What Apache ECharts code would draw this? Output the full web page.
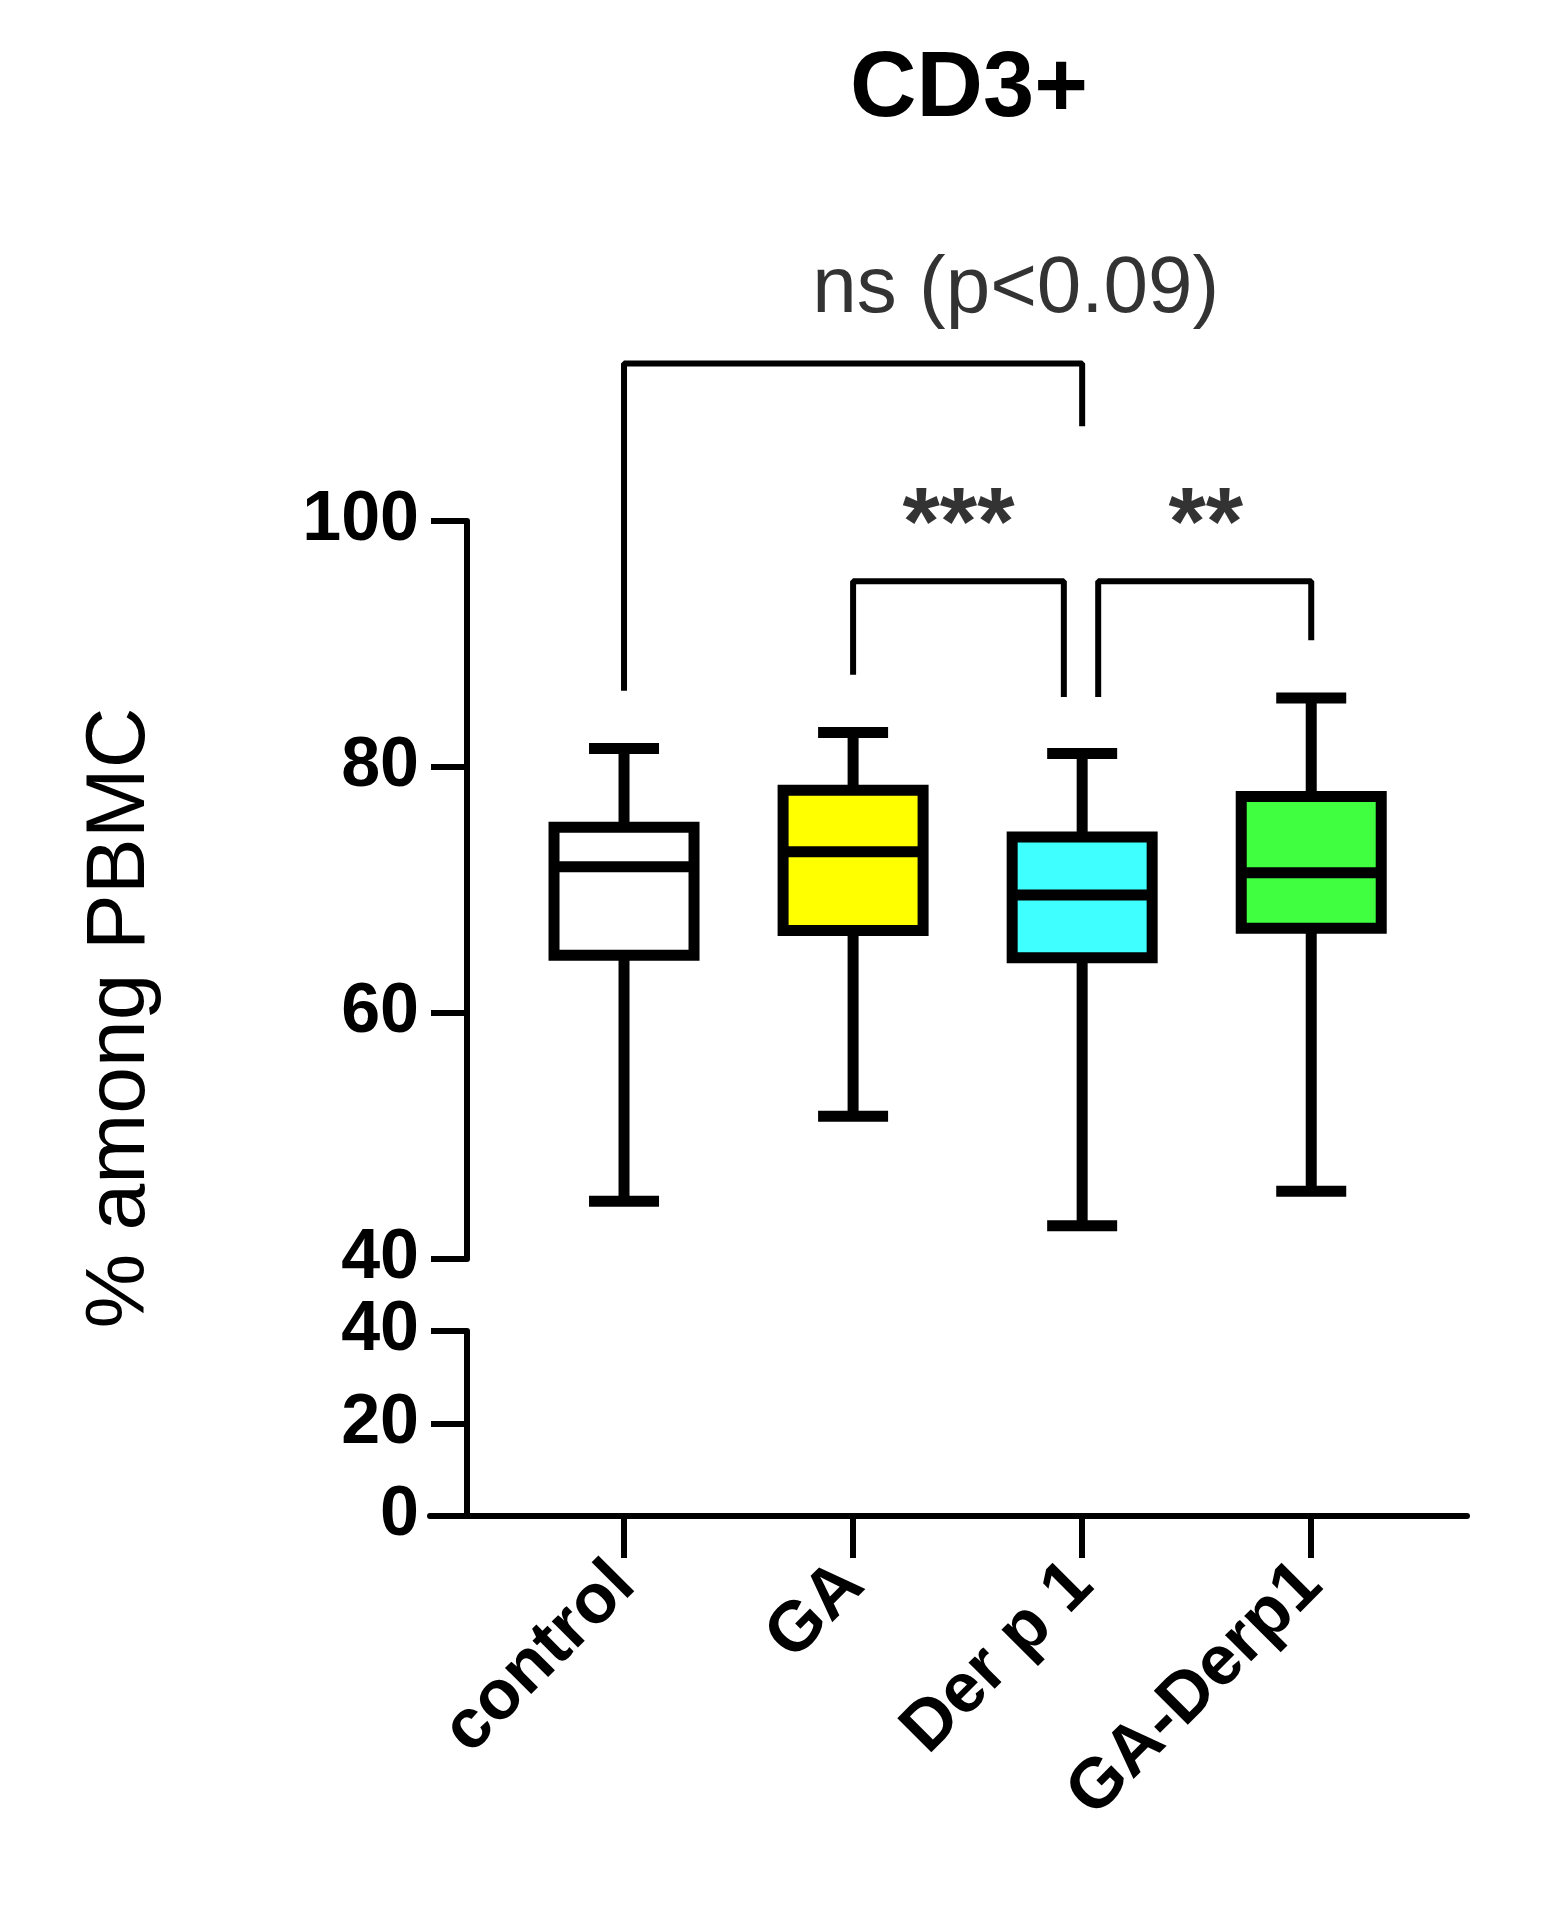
<!DOCTYPE html>
<html><head><meta charset="utf-8">
<script src="https://cdn.jsdelivr.net/npm/echarts@6/dist/echarts.min.js"></script>
<style>html,body{margin:0;padding:0;background:#fff}#c{width:1552px;height:1912px}</style>
</head><body><div id="c"></div>
<script>
const categories = ['control', 'GA', 'Der p 1', 'GA-Derp1'];
// [min, Q1, median, Q3, max]
const boxValues = [
  [44.7, 64.7, 71.9, 75.1, 81.5],
  [51.6, 66.7, 73.1, 78.1, 82.8],
  [42.7, 64.5, 69.6, 74.3, 81.1],
  [45.5, 66.9, 71.4, 77.6, 85.6]
];
const boxColors = ['#ffffff', '#ffff00', '#40ffff', '#40ff40'];
const upperTicks = [40, 60, 80, 100];
const lowerTicks = [0, 10, 20, 30, 40];
const bracketNs = [[0, 86.2], [0, 112.8], [2, 112.8], [2, 107.7]];
const bracket3 = [[1, 87.5], [1, 95.1], [1.92, 95.1], [1.92, 85.7]];
const bracket2 = [[2.07, 85.7], [2.07, 95.1], [3, 95.1], [3, 90.3]];
const sigLabels = [[1.71, 118.8, 'ns (p<0.09)', 'normal', 80], [1.46, 99.5, '***', 'bold', 96], [2.54, 99.5, '**', 'bold', 96]];

const F = 'Liberation Sans, Arial, sans-serif';
const chart = echarts.init(document.getElementById('c'));
const xCommon = {type: 'value', min: -0.847, max: 3.68};
const lineStyle = {color: '#000', width: 6};
function renderBox(params, api) {
  const i = api.value(0);
  const v = [api.value(1), api.value(2), api.value(3), api.value(4), api.value(5)];
  const c = x => api.coord([i, x]);
  const cx = c(v[0])[0];
  const hw = 70, cw = 35;
  const pMin = c(v[0])[1], pQ1 = c(v[1])[1], pMed = c(v[2])[1], pQ3 = c(v[3])[1], pMax = c(v[4])[1];
  const st = {stroke: '#000', lineWidth: 11, fill: null};
  return {type: 'group', children: [
    {type: 'line', shape: {x1: cx, y1: pQ3, x2: cx, y2: pMax}, style: st},
    {type: 'line', shape: {x1: cx, y1: pQ1, x2: cx, y2: pMin}, style: st},
    {type: 'line', shape: {x1: cx - cw, y1: pMax, x2: cx + cw, y2: pMax}, style: st},
    {type: 'line', shape: {x1: cx - cw, y1: pMin, x2: cx + cw, y2: pMin}, style: st},
    {type: 'rect', shape: {x: cx - hw, y: pQ3, width: 2 * hw, height: pQ1 - pQ3},
     style: {fill: boxColors[i], stroke: '#000', lineWidth: 11}},
    {type: 'line', shape: {x1: cx - hw, y1: pMed, x2: cx + hw, y2: pMed}, style: st}
  ]};
}
function bracket(d) {
  return {type: 'line', xAxisIndex: 0, yAxisIndex: 0, data: d, clip: false, symbol: 'none',
    lineStyle: {color: '#000', width: 6}, silent: true, animation: false};
}
const yLabel = {fontFamily: F, fontSize: 70, fontWeight: 'bold', color: '#000', margin: 48,
  showMinLabel: true, showMaxLabel: true, hideOverlap: false};
chart.setOption({
  animation: false,
  title: {text: 'CD3+', left: 964, top: 40, textAlign: 'center',
    textStyle: {fontFamily: F, fontSize: 92, fontWeight: 'bold', color: '#000'}},
  grid: [
    {left: 430, right: 85, top: 521, height: 738},
    {left: 430, right: 85, top: 1331, height: 185}
  ],
  xAxis: [
    Object.assign({gridIndex: 0, show: false}, xCommon),
    Object.assign({gridIndex: 1, splitLine: {show: false},
      axisLine: {lineStyle: lineStyle},
      axisTick: {show: true, customValues: [0, 1, 2, 3], length: 42, lineStyle: lineStyle},
      axisLabel: {customValues: [0, 1, 2, 3], formatter: v => categories[Math.round(v)],
        rotate: 45, margin: 58, fontFamily: F, fontSize: 70, fontWeight: 'bold', color: '#000'}}, xCommon)
  ],
  yAxis: [
    {gridIndex: 0, type: 'value', min: 40, max: 100, interval: 20, offset: -37,
      splitLine: {show: false}, axisLine: {show: true, onZero: false, lineStyle: lineStyle},
      axisTick: {length: 36, lineStyle: lineStyle}, axisLabel: yLabel},
    {gridIndex: 1, type: 'value', min: 0, max: 40, interval: 10, offset: -37,
      splitLine: {show: false}, axisLine: {show: true, onZero: false, lineStyle: lineStyle},
      axisTick: {length: 36, lineStyle: lineStyle}, axisLabel: yLabel}
  ],
  graphic: [{type: 'text', rotation: Math.PI / 2, x: 121, y: 1018,
    style: {text: '% among PBMC', font: '84px ' + F, fill: '#000', textAlign: 'center', textVerticalAlign: 'middle'}}],
  series: [
    {type: 'custom', xAxisIndex: 0, yAxisIndex: 0, renderItem: renderBox, clip: false,
      data: boxValues.map((b, i) => [i].concat(b)), encode: {x: 0, y: [1, 5]}},
    bracket(bracketNs), bracket(bracket3), bracket(bracket2),
    {type: 'scatter', xAxisIndex: 0, yAxisIndex: 0, symbolSize: 0, clip: false, silent: true,
      data: sigLabels.map(s => ({value: [s[0], s[1]], label: {show: true, position: 'inside', formatter: s[2],
        fontFamily: F, fontWeight: s[3], fontSize: s[4], color: '#000'}}))}
  ]
});
</script></body></html>
